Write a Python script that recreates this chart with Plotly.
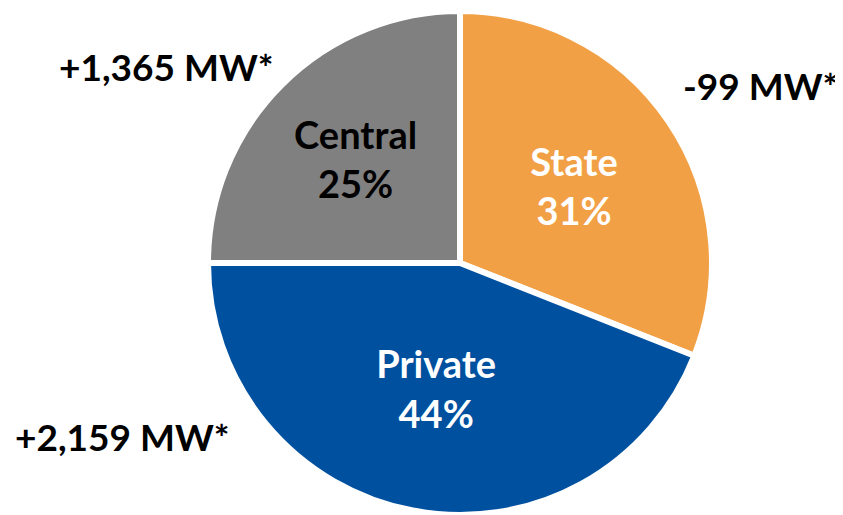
import plotly.graph_objects as go

labels = ["State", "Private", "Central"]
shares = [31, 44, 25]
colors = ["#F2A045", "#0050A0", "#808080"]
text_colors = ["white", "white", "black"]
changes = ["-99 MW*", "+2,159 MW*", "+1,365 MW*"]

W, H = 843, 515
OFF = 8  # page body margin offset
cx, cy, r = 460 - OFF, 263 - OFF, 252

fig = go.Figure(go.Pie(
    labels=labels,
    values=shares,
    sort=False,
    direction="clockwise",
    rotation=0,
    marker=dict(colors=colors, line=dict(color="white", width=6)),
    texttemplate="%{label}<br>%{percent:.0%}",
    textposition="inside",
    insidetextorientation="horizontal",
    textfont=dict(family="Lato", size=38, color=text_colors, weight="bold"),
    hoverinfo="label+percent",
    showlegend=False,
    domain=dict(x=[(cx - r) / W, (cx + r) / W], y=[1 - (cy + r) / H, 1 - (cy - r) / H]),
))

ann_pos = [(681, 85), (13, 436), (57, 67)]
for txt, (ax, ay) in zip(changes, ann_pos):
    fig.add_annotation(text="<b>" + txt + "</b>", x=(ax - OFF) / W, y=1 - (ay - OFF) / H,
                       xref="paper", yref="paper",
                       xanchor="left", yanchor="middle", showarrow=False,
                       font=dict(family="Lato", size=37, color="black"))

fig.update_layout(width=W, height=H, margin=dict(l=0, r=0, t=0, b=0),
                  paper_bgcolor="white", plot_bgcolor="white")
fig.write_html("out.html")
